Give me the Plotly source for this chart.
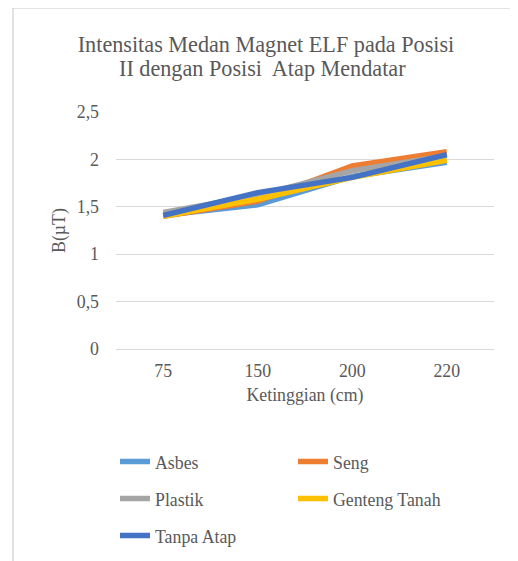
import plotly.graph_objects as go

heights = ["75", "150", "200", "220"]
asbes = [1.41, 1.52, 1.82, 1.97]
seng = [1.40, 1.56, 1.93, 2.08]
plastik = [1.44, 1.62, 1.88, 2.04]
genteng = [1.40, 1.58, 1.81, 1.99]
tanpa_atap = [1.41, 1.65, 1.81, 2.05]
y_ticks = [0, 0.5, 1, 1.5, 2, 2.5]
y_tick_labels = ["0", "0,5", "1", "1,5", "2", "2,5"]
title_lines = ["Intensitas Medan Magnet ELF pada Posisi", "II dengan Posisi  Atap Mendatar"]

series = [
    ("Asbes", asbes, "#5B9BD5"),
    ("Seng", seng, "#ED7D31"),
    ("Plastik", plastik, "#A5A5A5"),
    ("Genteng Tanah", genteng, "#FFC000"),
    ("Tanpa Atap", tanpa_atap, "#4472C4"),
]

FONT = "Liberation Serif, Times New Roman, serif"
TXT = "#595959"
FS = 17.8
OFF = 8  # page body margin

W, H = 518 - OFF, 561 - OFF
L, R, T, B = 116 - OFF, 24, 112 - OFF, 212
pw = W - L - R
ph = H - T - B

def px_x(x):
    return (x - OFF - L) / pw

def px_y(y):
    return (H - B - (y - OFF)) / ph

# legend slot positions in page pixels (text-left minus symbol, row centre)
legend_slots = [(115, 462), (293, 462), (115, 499), (293, 499), (115, 536)]

fig = go.Figure()
legend_layout = {}
for i, ((name, vals, color), (lx, ly)) in enumerate(zip(series, legend_slots)):
    key = "legend" if i == 0 else f"legend{i + 1}"
    fig.add_trace(go.Scatter(
        x=heights, y=vals, name=name, mode="lines",
        line=dict(color=color, width=5.5),
        legend=key, hoverinfo="skip",
    ))
    legend_layout[key] = dict(
        font=dict(family=FONT, size=FS, color=TXT),
        xanchor="left", yanchor="middle", x=px_x(lx), y=px_y(ly),
        bgcolor="rgba(0,0,0,0)", itemclick=False, borderwidth=0,
    )

fig.update_layout(
    width=W, height=H,
    margin=dict(l=L, r=R, t=T, b=B, autoexpand=False),
    paper_bgcolor="white", plot_bgcolor="white",
    font=dict(family=FONT, color=TXT),
    title=dict(text=title_lines[0],
               font=dict(family=FONT, size=22.2, color=TXT),
               x=(266 - OFF) / W, xanchor="center", y=1 - (44 - OFF) / H, yanchor="middle"),
    xaxis=dict(type="category", range=[-0.5, 3.5], showgrid=False, showline=True,
               linecolor="#D9D9D9", linewidth=1, ticks="", ticklabelstandoff=6,
               tickfont=dict(family=FONT, size=FS, color=TXT),
               title=dict(text="Ketinggian (cm)", font=dict(family=FONT, size=FS, color=TXT), standoff=8)),
    yaxis=dict(range=[0, 2.5], tickvals=y_ticks, ticktext=y_tick_labels,
               showgrid=True, gridcolor="#D9D9D9", gridwidth=1, zeroline=False,
               showline=False, ticks="", ticklabelstandoff=16,
               tickfont=dict(family=FONT, size=FS, color=TXT),
               title=dict(text="B(µT)", font=dict(family=FONT, size=FS, color=TXT), standoff=6)),
    showlegend=True,
    **legend_layout,
)

fig.add_annotation(text=title_lines[1], xref="paper", yref="paper",
                   x=px_x(262), y=px_y(68), xanchor="center", yanchor="middle",
                   showarrow=False, font=dict(family=FONT, size=22.2, color=TXT))

fig.add_shape(type="rect", xref="paper", yref="paper",
              x0=px_x(13), x1=px_x(540), y0=px_y(580), y1=px_y(8),
              line=dict(color="#D9D9D9", width=1.5), fillcolor="rgba(0,0,0,0)", layer="below")

fig.write_html("out.html")
